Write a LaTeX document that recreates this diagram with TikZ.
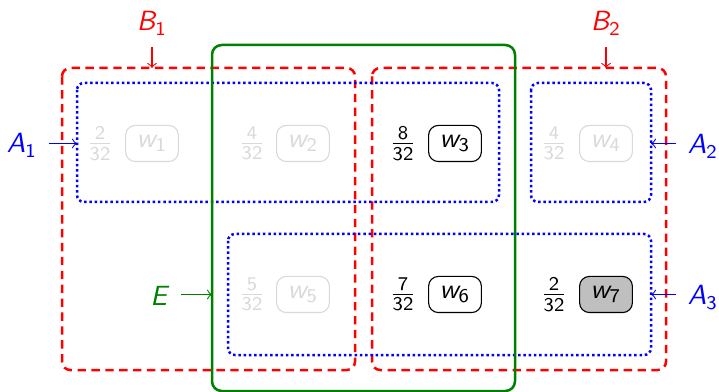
\documentclass[tikz,border=0pt]{standalone}
\usepackage{amsmath}
\usepackage{fontspec}
% sans-serif symbols: oblique letter with an upright index, and small fractions
\newcommand{\svar}[2]{$\textsf{\itshape #1}_{\textsf{#2}}$}
\newcommand{\sfrac}[2]{$\frac{\textsf{#1}}{\textsf{#2}}$}
\begin{document}
\begin{tikzpicture}[x=0.36pt,y=-0.36pt,font=\sffamily,
  wbox/.style={draw,rounded corners=3.5pt,minimum width=19pt,minimum height=13pt,inner sep=1pt},
  faded/.style={draw=black!15,text=black!15},
  fadedtext/.style={text=black!15},
  setB/.style={draw=red,densely dashed,line width=0.9pt,rounded corners=3pt},
  setA/.style={draw=blue,densely dotted,line width=0.9pt,rounded corners=2.5pt},
  setE/.style={draw=green!50!black,line width=0.9pt,rounded corners=3.5pt},
  lab/.style={inner sep=0pt,anchor=base},
  pointer/.style={->,shorten <=4pt}]
\useasboundingbox (0,0) rectangle (719,392);

% the sets B1, B2 (red), A1, A2, A3 (blue) and E (green)
\draw[setB] (62,68) rectangle (355,370);
\draw[setB] (372,68) rectangle (666,370);
\draw[setA] (77,83) rectangle (499,202);
\draw[setA] (531,83) rectangle (651,202);
\draw[setA] (228,234) rectangle (651,355);
\draw[setE] (212,45) rectangle (515,391);

% outcomes with their probabilities
\node[wbox,faded] (w1) at (152,143.5) {\svar{w}{1}};
\node[wbox,faded] (w2) at (303,143.5) {\svar{w}{2}};
\node[wbox] (w3) at (455,143.5) {\svar{w}{3}};
\node[wbox,faded] (w4) at (606,143.5) {\svar{w}{4}};
\node[wbox,faded] (w5) at (303,294.5) {\svar{w}{5}};
\node[wbox] (w6) at (455,294.5) {\svar{w}{6}};
\node[wbox,fill=gray!50] (w7) at (606,294.5) {\svar{w}{7}};

\node[fadedtext] (p1) at (100,143.5) {\sfrac{2}{32}};
\node[fadedtext] (p2) at (252,143.5) {\sfrac{4}{32}};
\node (p3) at (403,143.5) {\sfrac{8}{32}};
\node[fadedtext] (p4) at (554,143.5) {\sfrac{4}{32}};
\node[fadedtext] (p5) at (252,294.5) {\sfrac{5}{32}};
\node (p6) at (403,294.5) {\sfrac{7}{32}};
\node (p7) at (554,294.5) {\sfrac{2}{32}};

% set labels
\node[lab,text=red] (lB1) at (152,31) {\svar{B}{1}};
\node[lab,text=red] (lB2) at (606,31) {\svar{B}{2}};
\node[lab,text=blue] (lA1) at (22,153) {\svar{A}{1}};
\node[lab,text=blue] (lA2) at (703,154) {\svar{A}{2}};
\node[lab,text=blue] (lA3) at (703,305) {\svar{A}{3}};
\node[lab,text=green!50!black] (lE) at (160,306) {\textit{E}};

\coordinate (tB1) at (152,68);
\coordinate (tB2) at (606,68);
\coordinate (tA1) at (77,143.5);
\coordinate (tA2) at (651,143.5);
\coordinate (tA3) at (651,294.5);
\coordinate (tE) at (212,294.5);

\draw[pointer,red] (lB1.south -| tB1) -- (tB1);
\draw[pointer,red] (lB2.south -| tB2) -- (tB2);
\draw[pointer,blue] (lA1.east |- tA1) -- (tA1);
\draw[pointer,blue] (lA2.west |- tA2) -- (tA2);
\draw[pointer,blue] (lA3.west |- tA3) -- (tA3);
\draw[pointer,green!50!black] (lE.east |- tE) -- (tE);
\end{tikzpicture}
\end{document}
